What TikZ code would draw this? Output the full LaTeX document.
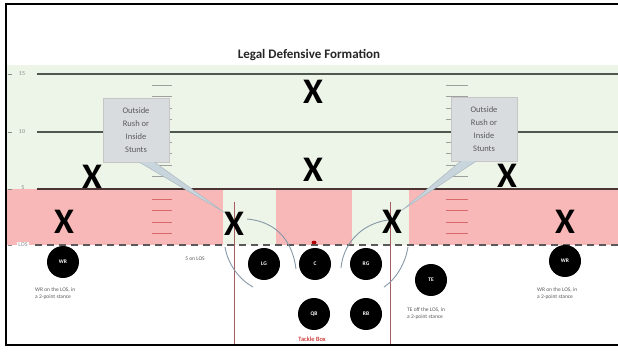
\documentclass[tikz,border=0pt]{standalone}
\usepackage{fontspec}
\setmainfont{Carlito}
\usetikzlibrary{calc}
\definecolor{fieldgreen}{HTML}{EDF4E8}
\definecolor{losred}{HTML}{F8B8B7}
\definecolor{yardline}{HTML}{4E584E}
\definecolor{fiveline}{HTML}{4A3434}
\definecolor{boxline}{HTML}{A85C60}
\definecolor{routeblue}{HTML}{8699A8}
\definecolor{calloutfill}{HTML}{D8DCDF}
\definecolor{pointerfill}{HTML}{C9D5DC}
\definecolor{hashred}{HTML}{D86A6C}
\definecolor{labelgray}{HTML}{8A8A8A}
\definecolor{notegray}{HTML}{5A5A5A}
\tikzset{
  xmark/.style={font=\fontsize{36}{36}\selectfont\bfseries, inner sep=0pt, text=black},
  player/.style={circle, fill=black, minimum size=32pt, inner sep=0pt, text=white,
    font=\fontsize{5.5}{6}\selectfont\bfseries},
  yardlab/.style={font=\fontsize{6}{6}\selectfont, text=labelgray, inner sep=1pt},
  note/.style={font=\fontsize{5.5}{7}\selectfont, text=notegray, align=left, inner sep=0pt},
  calloutbox/.style={rectangle, fill=calloutfill, draw=gray!45, minimum width=66pt,
    minimum height=64pt, align=center, text=notegray,
    font=\fontsize{8.5}{13}\selectfont, inner sep=2pt},
  route/.style={routeblue, line width=0.9pt},
  hashg/.style={gray!75, line width=1pt},
  hashr/.style={hashred, line width=1.3pt},
}
\begin{document}
\begin{tikzpicture}[x=1pt,y=-1pt]
\useasboundingbox (0,0) rectangle (618,352);
\fill[white] (0,0) rectangle (618,352);
% field
\fill[fieldgreen] (7,65) rectangle (618,245);
\fill[losred] (7,189) rectangle (223,245);
\fill[losred] (276,189) rectangle (352,245);
\fill[losred] (409,189) rectangle (618,245);
% hash marks
\foreach \k in {6,7,8,9,11,12,13,14} {
  \draw[hashg] (152,{245-11.4*\k}) -- (172,{245-11.4*\k});
  \draw[hashg] (446,{245-11.4*\k}) -- (468,{245-11.4*\k});
}
\foreach \k in {1,2,3,4} {
  \draw[hashr] (152,{245-11.4*\k}) -- (172,{245-11.4*\k});
  \draw[hashr] (446,{245-11.4*\k}) -- (468,{245-11.4*\k});
}
% yard lines
\draw[yardline, line width=2pt] (37,74) -- (618,74);
\draw[yardline, line width=2pt] (37,132) -- (618,132);
\draw[fiveline, line width=2.6pt] (37,189) -- (618,189);
\draw[gray!70!black, line width=2.6pt, dash pattern=on 7pt off 5pt] (35,245) -- (618,245);
% left ticks and labels
\foreach \yy in {74,132,189,245} \draw[labelgray, line width=0.8pt] (8,\yy) -- (12,\yy);
\node[yardlab] (l15) at (22,74) {15};
\node[yardlab] (l10) at (22,132) {10};
\node[yardlab] (l5) at (23,188) {5};
\node[yardlab, fill=white] (llos) at (23,245) {LOS};
% title
\node[font=\fontsize{13}{13}\selectfont\bfseries, text=black!85] (title) at (309,55) {Legal Defensive Formation};
% tackle box lines
\draw[boxline, line width=0.8pt] (234,202) -- (234,345);
\draw[boxline, line width=0.8pt] (390,202) -- (390,345);
% frame
\draw[line width=1.4pt] (619,4) -- (6,4) -- (6,345) -- (619,345);
% X marks
\node[xmark] (xtop) at (313,92) {X};
\node[xmark] (xmid) at (313,170) {X};
\node[xmark] (xlo) at (92,177) {X};
\node[xmark] (xro) at (507,176) {X};
\node[xmark] (xlw) at (64,222) {X};
\node[xmark] (xlt) at (234,224) {X};
\node[xmark] (xrt) at (392,222) {X};
\node[xmark] (xrw) at (565,222) {X};
% callouts
\node[calloutbox] (cl) at (136,130) {Outside\\Rush or\\Inside\\Stunts};
\node[calloutbox] (cr) at (484,129) {Outside\\Rush or\\Inside\\Stunts};
\filldraw[fill=pointerfill, draw=routeblue!70, line width=0.5pt]
  ($(cl.south west)!0.55!(cl.south east)$) -- (xlt.north west) -- ($(cl.south west)!0.78!(cl.south east)$);
\filldraw[fill=pointerfill, draw=routeblue!70, line width=0.5pt]
  ($(cr.south west)!0.15!(cr.south east)$) -- (xrt.north east) -- ($(cr.south west)!0.38!(cr.south east)$);
% routes
\draw[route] (247,219) .. controls (280,222) and (293,245) .. (296,269);
\draw[route] (225,247) .. controls (228,265) and (240,280) .. (253,287);
\draw[route] (388,220) .. controls (360,224) and (343,245) .. (341,268);
\draw[route] (408,247) .. controls (405,265) and (395,280) .. (384,287);
% players
\node[player] (wrl) at (63,262) {WR};
\node[player] (lg) at (264,264) {LG};
\node[player] (c) at (315,264) {C};
\node[player] (rg) at (366,264) {RG};
\node[player] (te) at (431,280) {TE};
\node[player] (qb) at (314,314) {QB};
\node[player] (rb) at (366,314) {RB};
\node[player] (wrr) at (565,261) {WR};
% ball
\fill[red!70!black] (314,242.5) ellipse (2.5pt and 1.8pt);
% notes
\node[note, anchor=north west] (nwl) at (35,287) {WR on the LOS, in\\a 2-point stance};
\node[note, anchor=north west] (nwr) at (537,287) {WR on the LOS, in\\a 2-point stance};
\node[note, anchor=north west] (nte) at (407,307) {TE off the LOS, in\\a 2-point stance};
\node[note] (five) at (195,259) {5 on LOS};
\node[font=\fontsize{6.5}{7}\selectfont, text=red!75!black] (tb) at (312,339) {Tackle Box};
\end{tikzpicture}
\end{document}
